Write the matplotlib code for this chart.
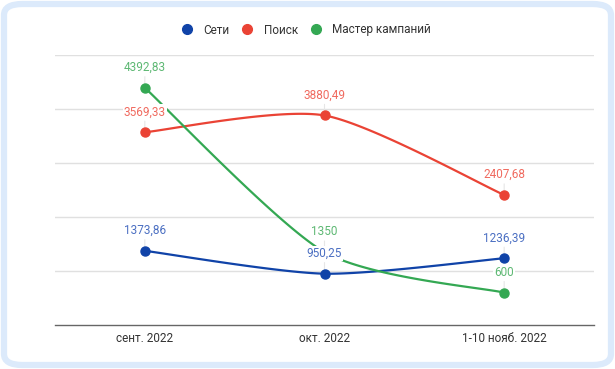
import numpy as np
import matplotlib
matplotlib.use("Agg")
import matplotlib.pyplot as plt
from matplotlib.patches import FancyBboxPatch
from matplotlib.lines import Line2D

plt.rcParams['font.family'] = ['Roboto', 'DejaVu Sans']

# данные
months = ["сент. 2022", "окт. 2022", "1-10 нояб. 2022"]
seti = [1373.86, 950.25, 1236.39]
poisk = [3569.33, 3880.49, 2407.68]
master = [4392.83, 1350, 600]
names = ["Сети", "Поиск", "Мастер кампаний"]

colors = ["#1043A8", "#EA4335", "#34A853"]
label_colors = ["#4B6FC2", "#F06A5F", "#5DB873"]


def smooth(xs, ys, n=60, k=8):
    # сглаживание через кубические безье
    xs = np.asarray(xs, float)
    ys = np.asarray(ys, float)
    pts = np.column_stack([xs, ys])
    m = len(pts)
    out = []
    for i in range(m - 1):
        p0 = pts[i]
        p3 = pts[i + 1]
        prev = pts[i - 1] if i > 0 else pts[i]
        nxt = pts[i + 2] if i + 2 < m else pts[i + 1]
        c1 = p0 + (p3 - prev) / k
        c2 = p3 - (nxt - p0) / k
        t = np.linspace(0, 1, n)[:, None]
        seg = ((1 - t) ** 3) * p0 + 3 * ((1 - t) ** 2) * t * c1 + 3 * (1 - t) * t ** 2 * c2 + t ** 3 * p3
        out.append(seg)
    out = np.vstack(out)
    return out[:, 0], out[:, 1]


def fmt(v):
    if float(v).is_integer():
        return str(int(v))
    return f"{v:.2f}".replace(".", ",")


fig = plt.figure(figsize=(6.15, 3.69), dpi=100)
frame = FancyBboxPatch((4 / 615, 4 / 369), 607 / 615, 361 / 369,
                       boxstyle="round,pad=0,rounding_size=0.03",
                       transform=fig.transFigure, facecolor="white",
                       edgecolor="#DCEAFB", linewidth=4.5, zorder=-10)
fig.patches.append(frame)

ax = fig.add_axes([55 / 615, 1 - 325 / 369, 539 / 615, 270 / 369])
ax.set_facecolor("none")
ax.set_xlim(-0.5, 2.5)
ax.set_ylim(0, 5000)
ax.set_yticks([1000, 2000, 3000, 4000, 5000])
ax.set_yticklabels([])
ax.tick_params(axis="y", length=0)
ax.tick_params(axis="x", length=0, labelsize=8.5, labelcolor="#333333", pad=5)
ax.set_xticks(range(len(months)))
ax.set_xticklabels(months)
ax.grid(axis="y", color="#E0E0E0", linewidth=1)
for s in ["top", "right", "left"]:
    ax.spines[s].set_visible(False)
ax.spines["bottom"].set_color("#666666")
ax.spines["bottom"].set_linewidth(1)

x = np.arange(len(months))
series = [seti, poisk, master]
off = 10

for vals, c in zip(series, colors):
    sx, sy = smooth(x, vals)
    ax.plot(sx, sy, color=c, linewidth=1.6, zorder=3, solid_capstyle="round")
    ax.plot(x, vals, "o", color=c, markersize=6.5, zorder=4)

for vals, lc in zip(series, label_colors):
    for xi, v in zip(x, vals):
        ax.annotate("", xy=(xi, v), xytext=(0, off), textcoords="offset points",
                    arrowprops=dict(arrowstyle="-", color="#E6E6E6", lw=0.8), zorder=2)
        ax.annotate(fmt(v), xy=(xi, v), xytext=(0, off), textcoords="offset points",
                    ha="center", va="bottom", fontsize=8.5, color=lc, zorder=6,
                    bbox=dict(boxstyle="square,pad=0.1", facecolor="white", edgecolor="none"))

handles = [Line2D([], [], marker="o", linestyle="none", color=c, markersize=7) for c in colors]
fig.legend(handles, names, loc="center", bbox_to_anchor=(306 / 615, 1 - 30 / 369),
           ncol=3, frameon=False, fontsize=8.5, handletextpad=0.9, columnspacing=1.0,
           handlelength=1.0, labelcolor="#333333")

fig.savefig("out.png", dpi=100)
